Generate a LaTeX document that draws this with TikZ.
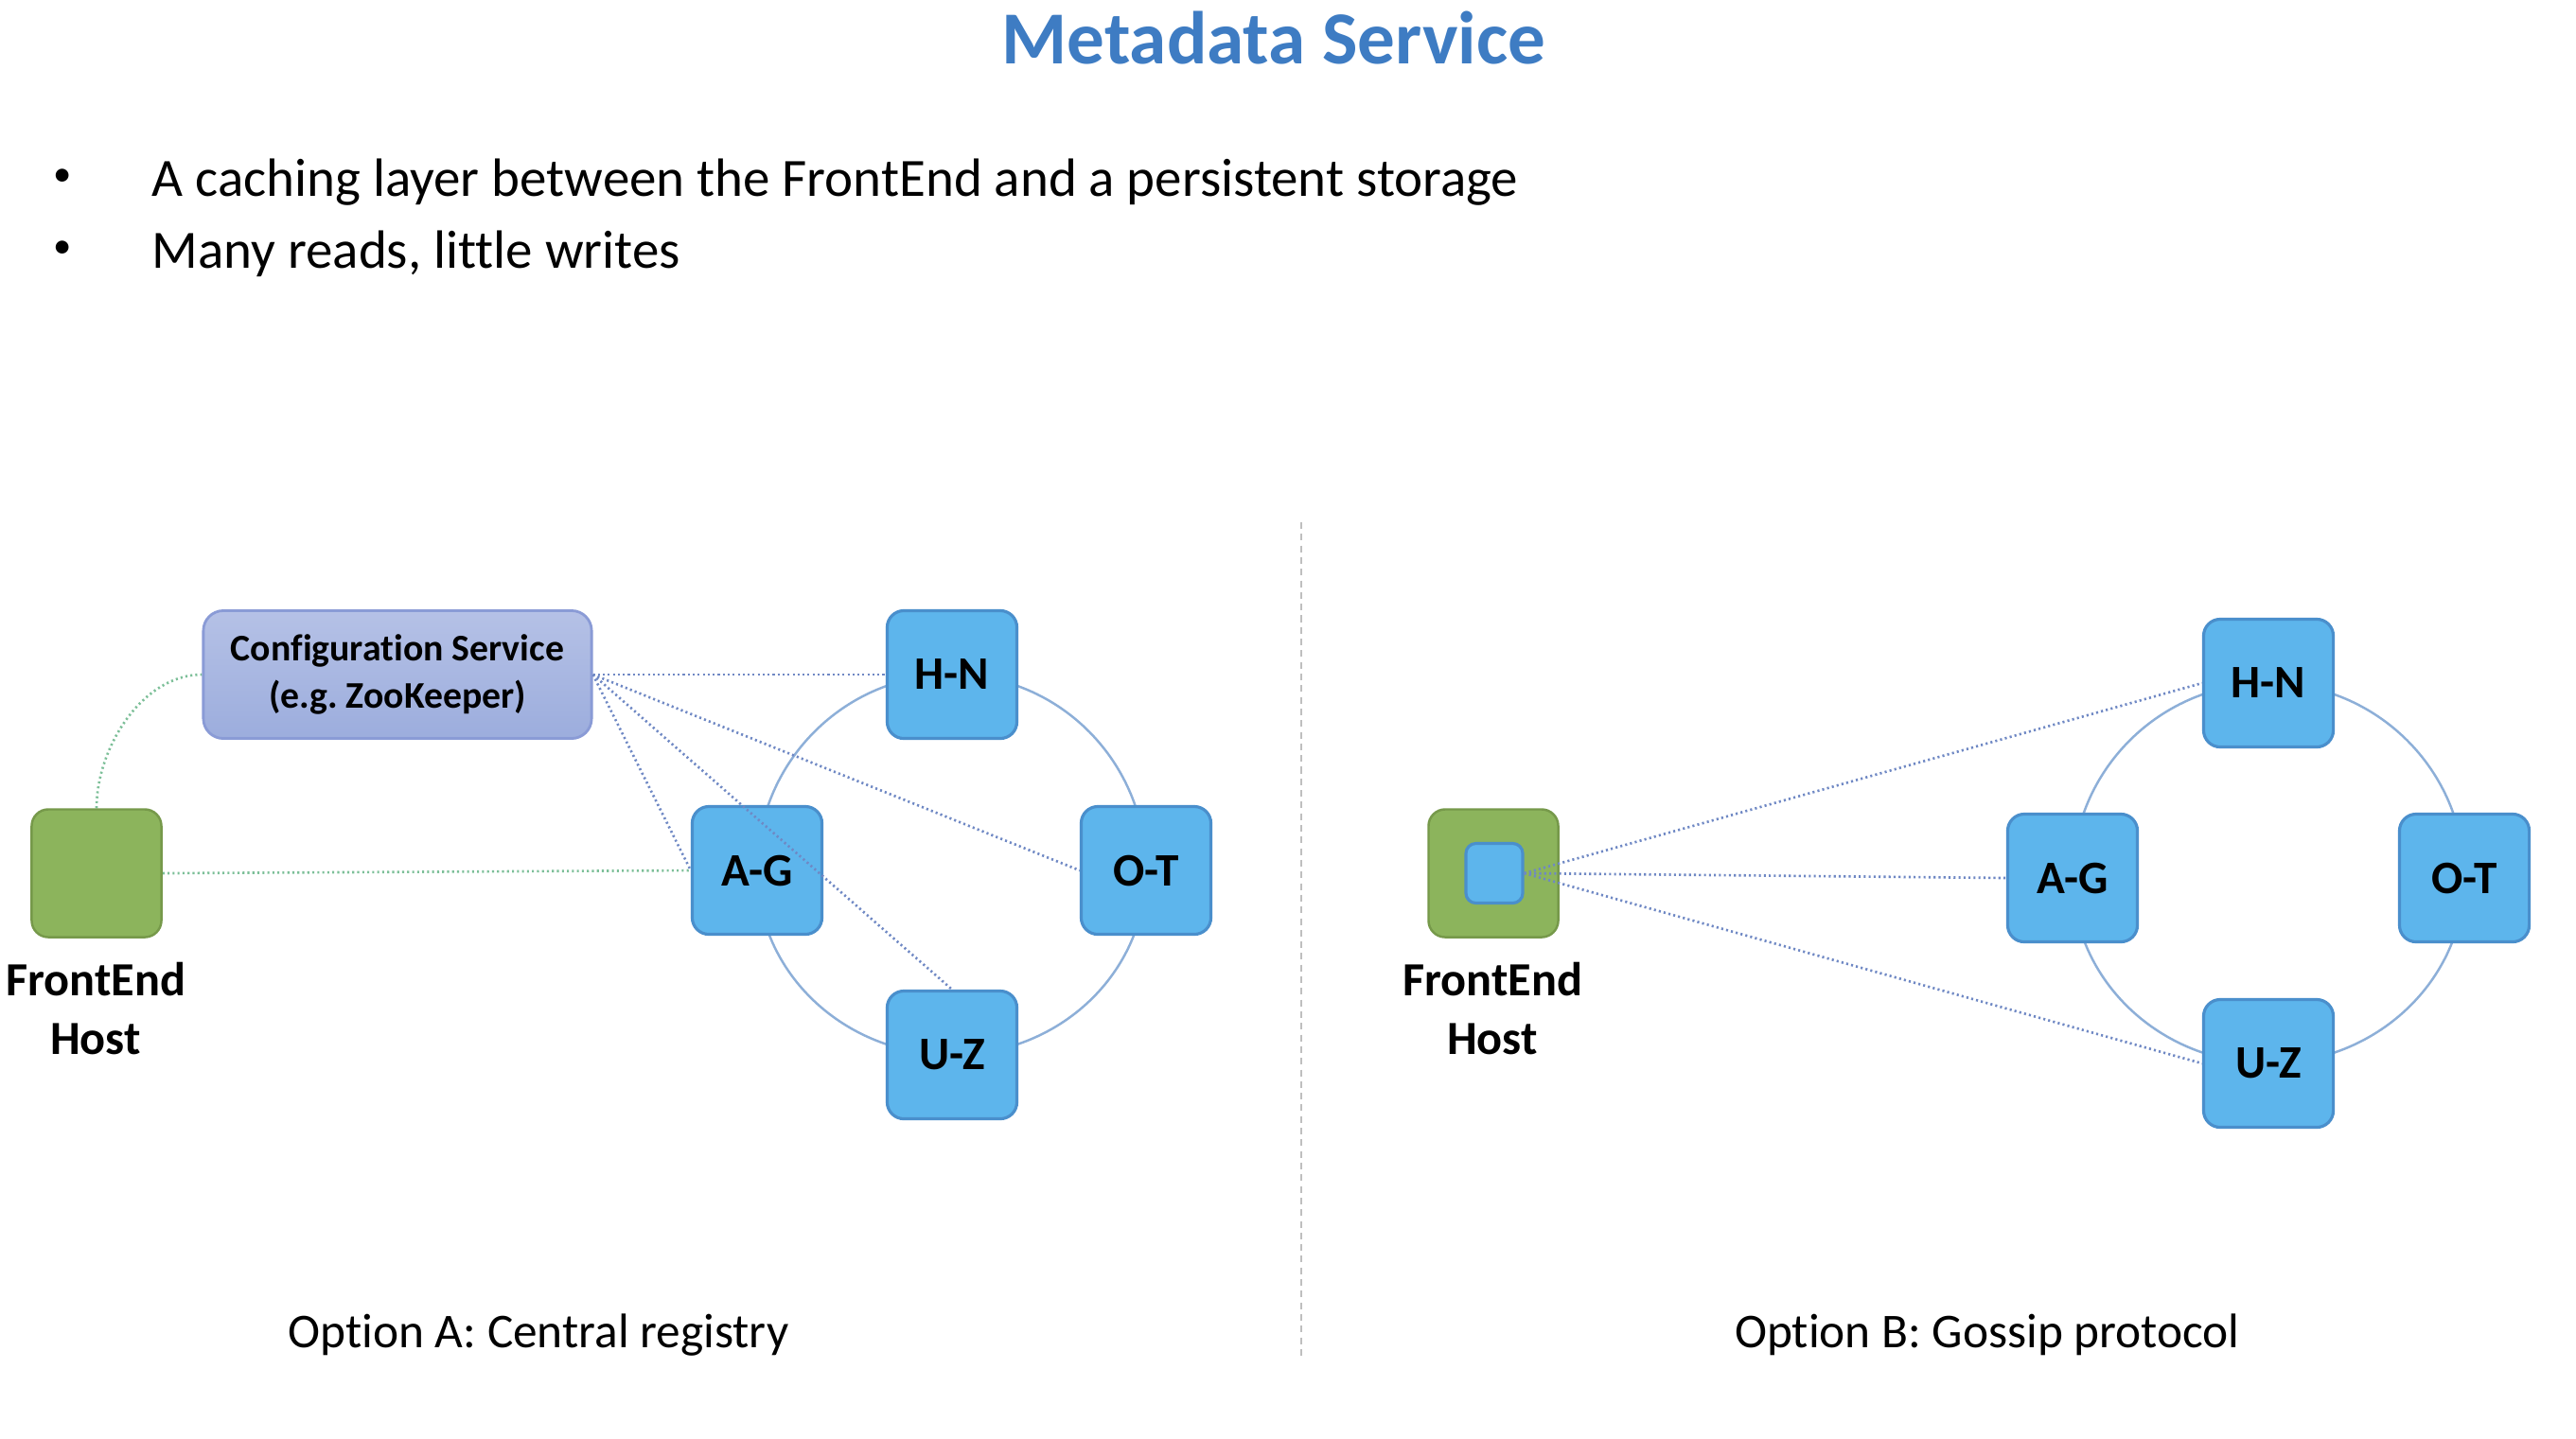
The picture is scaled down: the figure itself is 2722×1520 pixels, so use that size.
\documentclass[tikz,border=0pt]{standalone}
\usepackage{fontspec}
\setmainfont{Carlito}[Ligatures=NoCommon]
\usetikzlibrary{backgrounds}

\definecolor{titleblue}{HTML}{3E7CC3}
\definecolor{shardfill}{HTML}{5DB5EC}
\definecolor{shardline}{HTML}{4A8FCC}
\definecolor{hostfill}{HTML}{8CB45C}
\definecolor{hostline}{HTML}{76994A}
\definecolor{cfgtop}{HTML}{B5C1E6}
\definecolor{cfgbot}{HTML}{9CADDD}
\definecolor{cfgline}{HTML}{8A9BD6}
\definecolor{ringline}{HTML}{8DAFD8}
\definecolor{linkblue}{HTML}{6F88C4}
\definecolor{linkgreen}{HTML}{7CBF98}
\definecolor{divider}{HTML}{BFBFBF}

\tikzset{
  shard/.style={draw=shardline, line width=0.9pt, fill=shardfill, rounded corners=5pt,
    minimum width=1.37cm, minimum height=1.35cm, inner sep=0pt,
    font=\fontsize{14}{16}\selectfont\bfseries},
  host/.style={draw=hostline, line width=0.7pt, fill=hostfill, rounded corners=5pt,
    minimum width=1.37cm, minimum height=1.35cm, inner sep=0pt},
  cache/.style={draw=shardline, line width=0.9pt, fill=shardfill, rounded corners=3pt,
    minimum width=0.6cm, minimum height=0.63cm, inner sep=0pt},
  cfgbox/.style={draw=cfgline, line width=0.8pt, top color=cfgtop, bottom color=cfgbot,
    rounded corners=6pt, minimum width=4.1cm, minimum height=1.35cm, inner sep=0pt,
    align=center, font=\fontsize{11.3}{14}\selectfont\bfseries},
  hostlabel/.style={align=center, font=\fontsize{14.3}{17.6}\selectfont\bfseries},
  ring/.style={draw=ringline, line width=0.7pt},
  bluelink/.style={draw=linkblue, line width=0.75pt, dash pattern=on 0.6pt off 0.9pt},
  greenlink/.style={draw=linkgreen, line width=0.75pt, dash pattern=on 0.6pt off 0.9pt},
  caption/.style={font=\fontsize{14.6}{17}\selectfont},
  bullettext/.style={anchor=base west, inner sep=0pt, font=\fontsize{16.2}{19}\selectfont},
  bulletdot/.style={inner sep=0pt, font=\fontsize{11}{13}\selectfont},
}

\begin{document}
\begin{tikzpicture}[x=0.01cm, y=-0.01cm]
  \path[use as bounding box] (0,0) rectangle (2722,1520);

  % heading and bullet list
  \node[text=titleblue, font=\fontsize{22.5}{27}\selectfont\bfseries] (title) at (1346,40) {Metadata Service};
  \node[bulletdot] (b1dot) at (66,188) {•};
  \node[bullettext] (b1) at (160,207) {A caching layer between the FrontEnd and a persistent storage};
  \node[bulletdot] (b2dot) at (66,264) {•};
  \node[bullettext] (b2) at (160,283) {Many reads, little writes};

  % separator between the two options
  \coordinate (sepTop) at (1375,552);
  \coordinate (sepBot) at (1375,1437);
  \draw[divider, line width=0.6pt, dash pattern=on 2pt off 1.5pt] (sepTop) -- (sepBot);

  % ---------- Option A: central registry ----------
  \node[cfgbox] (cfg) at (420,713) {Configuration Service\\(e.g.\ ZooKeeper)};
  \node[host] (feA) at (102,923) {};
  \node[hostlabel] (feAlbl) at (101,1066) {FrontEnd\\Host};
  \node[shard] (hnA) at (1006,713) {H-N};
  \node[shard] (agA) at (800,920) {A-G};
  \node[shard] (otA) at (1211,920) {O-T};
  \node[shard] (uzA) at (1006,1115) {U-Z};
  \node[caption] (capA) at (569,1411) {Option A: Central registry};

  % the registry link to U-Z runs across the A-G box
  \draw[bluelink] (cfg.east) -- (uzA.north);

  % ---------- Option B: gossip protocol ----------
  \node[host] (feB) at (1578,923) {};
  \node[cache] (cacheB) at (1579,923) {};
  \node[hostlabel] (feBlbl) at (1577,1066) {FrontEnd\\Host};
  \node[shard] (hnB) at (2397,722) {H-N};
  \node[shard] (agB) at (2190,928) {A-G};
  \node[shard] (otB) at (2604,928) {O-T};
  \node[shard] (uzB) at (2397,1124) {U-Z};
  \node[caption] (capB) at (2100,1411) {Option B: Gossip protocol};

  % gossip links from the local cache, drawn over the host box
  \draw[bluelink] (cacheB.east) -- (hnB.west);
  \draw[bluelink] (cacheB.east) -- (agB.west);
  \draw[bluelink] (cacheB.east) -- (uzB.west);

  \begin{scope}[on background layer]
    \fill[white] (0,0) rectangle (2722,1520);

    % partition rings
    \draw[ring] (hnA.center) .. controls +(-114,0) and +(0,-114) .. (agA.center)
                              .. controls +(0,108) and +(-114,0) .. (uzA.center)
                              .. controls +(114,0) and +(0,108) .. (otA.center)
                              .. controls +(0,-114) and +(114,0) .. (hnA.center);
    \draw[ring] (hnB.center) .. controls +(-114,0) and +(0,-114) .. (agB.center)
                              .. controls +(0,108) and +(-114,0) .. (uzB.center)
                              .. controls +(114,0) and +(0,108) .. (otB.center)
                              .. controls +(0,-114) and +(114,0) .. (hnB.center);

    % registry links
    \draw[bluelink] (cfg.east) -- (hnA.west);
    \draw[bluelink] (cfg.east) -- (otA.west);
    \draw[bluelink] (cfg.east) -- (agA.west);
    \draw[greenlink] (feA.north) to[out=90, in=180, looseness=0.9] (cfg.west);
    \draw[greenlink] (feA.east) -- (agA.west);
  \end{scope}
\end{tikzpicture}
\end{document}
